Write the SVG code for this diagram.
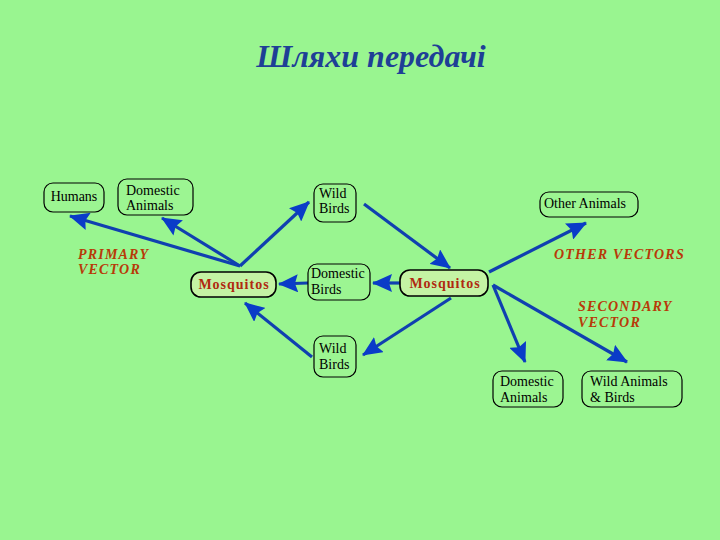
<svg xmlns="http://www.w3.org/2000/svg" width="720" height="540" viewBox="0 0 720 540">
<defs>
<marker id="ah" markerUnits="userSpaceOnUse" markerWidth="20" markerHeight="18" refX="19" refY="9" orient="auto">
<path d="M0,0 L20,9 L0,18 L3,9 z" fill="#0a3cc8"/>
</marker>
<style>
.box{fill:#9cf592;stroke:#000;stroke-width:1.2}
.mbox{fill:#c4f3a4;stroke:#000;stroke-width:1.6}
.t{font-family:"Liberation Serif","DejaVu Serif",serif;font-size:14px;fill:#000}
.m{font-family:"Liberation Serif","DejaVu Serif",serif;font-size:14px;font-weight:bold;fill:#b02a10;text-anchor:middle;letter-spacing:1px}
.lab{font-family:"Liberation Serif","DejaVu Serif",serif;font-size:14px;font-weight:bold;font-style:italic;fill:#b83a08;letter-spacing:1.2px}
.c{stroke:#1040b0;stroke-width:3.2;fill:none;marker-end:url(#ah)}
</style>
</defs>
<rect x="0" y="0" width="720" height="540" fill="#99f590"/>
<text x="371" y="67" text-anchor="middle" font-family="Liberation Serif, DejaVu Serif, serif" font-size="32" font-weight="bold" font-style="italic" fill="#1e3f96">Шляхи передачі</text>
<g id="connectors">
<line class="c" x1="240" y1="266" x2="70" y2="216"/>
<line class="c" x1="240" y1="266" x2="162" y2="218"/>
<line class="c" x1="240" y1="266" x2="309" y2="202"/>
<line class="c" x1="308" y1="283" x2="279" y2="284"/>
<line class="c" x1="400" y1="283" x2="373" y2="283"/>
<line class="c" x1="364" y1="204" x2="450" y2="268"/>
<line class="c" x1="489" y1="272" x2="586" y2="223"/>
<line class="c" x1="451" y1="298" x2="363" y2="355"/>
<line class="c" x1="312" y1="357" x2="245" y2="303"/>
<line class="c" x1="493" y1="285" x2="525" y2="362"/>
<line class="c" x1="493" y1="285" x2="627" y2="362"/>
</g>
<g id="humans"><rect class="box" x="44" y="183" width="60" height="29" rx="9"/><text class="t" x="74" y="201" text-anchor="middle">Humans</text></g>
<g id="domestic-animals-top"><rect class="box" x="118" y="179" width="75" height="36" rx="9"/><text class="t" x="126" y="195">Domestic</text><text class="t" x="126" y="210">Animals</text></g>
<g id="wild-birds-top"><rect class="box" x="314" y="184" width="42" height="38" rx="9"/><text class="t" x="319" y="198">Wild</text><text class="t" x="319" y="213">Birds</text></g>
<g id="mosquitos-left"><rect class="mbox" x="191" y="272" width="85" height="25" rx="10"/><text class="m" x="234" y="289">Mosquitos</text></g>
<g id="domestic-birds"><rect class="box" x="308" y="264" width="62" height="36" rx="9"/><text class="t" x="311" y="278">Domestic</text><text class="t" x="311" y="294">Birds</text></g>
<g id="mosquitos-right"><rect class="mbox" x="400" y="270" width="88" height="26" rx="10"/><text class="m" x="445" y="288">Mosquitos</text></g>
<g id="wild-birds-bottom"><rect class="box" x="314" y="336" width="42" height="41" rx="9"/><text class="t" x="319" y="353">Wild</text><text class="t" x="319" y="369">Birds</text></g>
<g id="other-animals"><rect class="box" x="540" y="192" width="98" height="25" rx="9"/><text class="t" x="544" y="208">Other Animals</text></g>
<g id="domestic-animals-bottom"><rect class="box" x="493" y="371" width="70" height="36" rx="9"/><text class="t" x="500" y="386">Domestic</text><text class="t" x="500" y="402">Animals</text></g>
<g id="wild-animals-birds"><rect class="box" x="582" y="371" width="100" height="36" rx="9"/><text class="t" x="590" y="386">Wild Animals</text><text class="t" x="590" y="402">&amp; Birds</text></g>
<g id="labels">
<text class="lab" x="78" y="259">PRIMARY</text>
<text class="lab" x="78" y="274">VECTOR</text>
<text class="lab" x="554" y="259">OTHER  VECTORS</text>
<text class="lab" x="578" y="311">SECONDARY</text>
<text class="lab" x="578" y="327">VECTOR</text>
</g>
</svg>
